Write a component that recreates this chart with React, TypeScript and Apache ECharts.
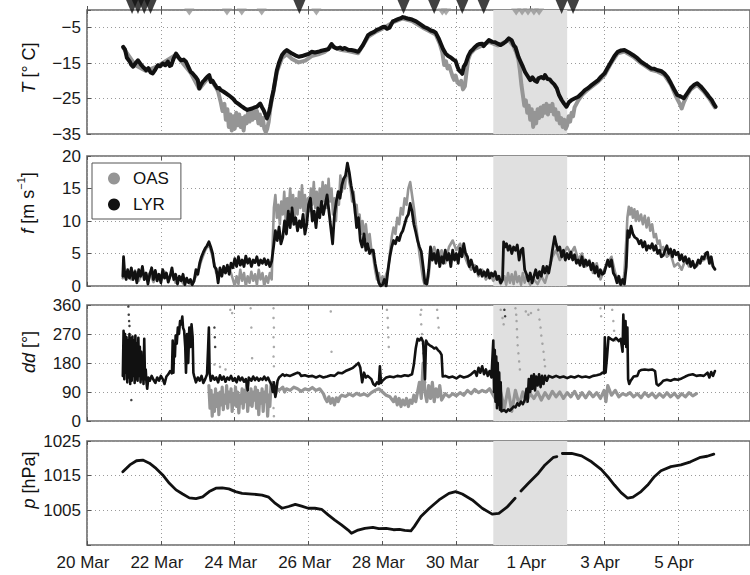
import React, { useEffect, useRef } from 'react';
import * as echarts from 'echarts';

// x values are days after 20 Mar 00:00
const DATE_LABELS = ['20 Mar', '22 Mar', '24 Mar', '26 Mar', '28 Mar', '30 Mar', '1 Apr', '3 Apr', '5 Apr'];
const SHADE = [11, 13]; // 31 Mar - 2 Apr

const T_LYR = [[0.98,-10.4],[1.03,-11.2],[1.08,-13.5],[1.16,-14.6],[1.2,-15.5],[1.25,-16.0],[1.3,-15.2],[1.38,-14.2],[1.45,-15.3],[1.51,-16.0],[1.56,-16.5],[1.6,-17.0],[1.66,-16.4],[1.72,-17.6],[1.78,-17.9],[1.85,-16.8],[1.92,-15.6],[1.98,-15.9],[2.05,-15.1],[2.12,-15.6],[2.19,-14.6],[2.24,-15.8],[2.28,-15.6],[2.35,-13.6],[2.41,-12.3],[2.48,-13.4],[2.55,-14.2],[2.62,-14.0],[2.68,-14.6],[2.75,-16.2],[2.81,-17.5],[2.86,-17.9],[2.9,-18.4],[2.95,-19.0],[3.0,-19.8],[3.04,-22.1],[3.09,-21.0],[3.13,-20.3],[3.18,-19.8],[3.22,-19.3],[3.27,-18.7],[3.31,-18.4],[3.35,-20.3],[3.4,-20.0],[3.44,-20.7],[3.49,-21.5],[3.53,-22.1],[3.58,-22.0],[3.62,-22.6],[3.69,-23.0],[3.76,-23.5],[3.83,-24.0],[3.89,-24.5],[3.95,-25.0],[4.02,-25.9],[4.1,-26.5],[4.2,-27.3],[4.27,-27.8],[4.34,-28.2],[4.4,-28.0],[4.47,-27.8],[4.53,-27.5],[4.6,-27.3],[4.65,-26.8],[4.69,-26.4],[4.74,-27.5],[4.78,-28.2],[4.83,-29.5],[4.87,-30.6],[4.92,-29.2],[4.96,-27.3],[5.0,-25.0],[5.05,-22.6],[5.1,-19.5],[5.14,-17.0],[5.2,-14.8],[5.28,-12.7],[5.35,-11.8],[5.41,-11.3],[5.48,-11.8],[5.55,-12.3],[5.64,-12.8],[5.73,-13.2],[5.82,-13.0],[5.91,-12.7],[6.0,-12.4],[6.08,-11.8],[6.17,-12.0],[6.26,-11.8],[6.35,-11.5],[6.44,-11.3],[6.53,-11.1],[6.62,-9.6],[6.69,-10.5],[6.76,-10.9],[6.85,-10.6],[6.92,-11.0],[6.98,-10.7],[7.07,-11.2],[7.16,-11.3],[7.25,-11.5],[7.34,-11.8],[7.4,-11.0],[7.47,-9.9],[7.54,-8.5],[7.61,-7.1],[7.7,-6.5],[7.77,-6.2],[7.83,-5.7],[7.92,-5.3],[8.01,-4.8],[8.06,-4.7],[8.12,-5.3],[8.19,-5.0],[8.28,-3.2],[8.33,-3.0],[8.42,-2.6],[8.5,-2.3],[8.55,-2.0],[8.62,-2.2],[8.68,-2.4],[8.8,-2.7],[8.91,-3.2],[9.02,-4.0],[9.13,-4.8],[9.22,-5.2],[9.31,-5.8],[9.38,-6.0],[9.44,-6.4],[9.52,-8.0],[9.58,-9.5],[9.64,-11.0],[9.71,-12.3],[9.78,-13.0],[9.85,-13.4],[9.92,-14.0],[9.98,-14.4],[10.03,-16.0],[10.07,-17.0],[10.12,-17.5],[10.16,-18.0],[10.2,-16.0],[10.25,-15.2],[10.32,-13.0],[10.38,-11.8],[10.43,-11.3],[10.5,-10.5],[10.56,-9.9],[10.62,-9.6],[10.7,-9.5],[10.74,-10.2],[10.8,-9.4],[10.88,-8.5],[10.97,-9.0],[11.05,-9.1],[11.12,-9.5],[11.2,-9.9],[11.28,-9.4],[11.35,-8.8],[11.42,-8.0],[11.5,-8.6],[11.55,-9.9],[11.6,-10.5],[11.68,-13.2],[11.73,-14.4],[11.8,-16.0],[11.86,-17.5],[11.92,-18.5],[12.0,-19.8],[12.06,-19.0],[12.12,-19.9],[12.18,-20.3],[12.22,-19.3],[12.3,-18.9],[12.36,-19.3],[12.4,-18.4],[12.47,-19.5],[12.53,-19.6],[12.58,-20.3],[12.65,-21.0],[12.72,-22.1],[12.78,-24.0],[12.85,-25.4],[12.92,-26.5],[12.98,-27.3],[13.05,-26.0],[13.12,-25.4],[13.2,-25.0],[13.3,-24.5],[13.4,-23.5],[13.48,-22.6],[13.57,-22.0],[13.66,-21.2],[13.75,-20.5],[13.84,-19.8],[13.92,-18.8],[14.01,-17.9],[14.1,-16.2],[14.19,-14.6],[14.28,-13.0],[14.37,-11.8],[14.46,-11.4],[14.55,-11.3],[14.66,-11.9],[14.78,-12.7],[14.9,-13.6],[15.0,-14.6],[15.13,-15.5],[15.27,-16.5],[15.36,-16.6],[15.45,-17.0],[15.54,-17.2],[15.63,-17.9],[15.72,-19.0],[15.81,-20.7],[15.9,-22.5],[15.98,-24.0],[16.07,-24.4],[16.16,-24.9],[16.25,-23.5],[16.34,-22.1],[16.43,-21.2],[16.52,-20.7],[16.61,-21.5],[16.7,-22.6],[16.77,-23.5],[16.84,-24.5],[16.92,-25.5],[16.97,-26.5],[17.02,-27.3]];

const T_OAS = [[0.98,-10.6],[1.3,-15.5],[1.6,-17.2],[1.92,-15.8],[2.41,-12.6],[2.81,-17.8],[3.04,-22.3],[3.31,-18.8],[3.5,-22.0],[3.55,-23.0],[3.62,-26.0],[3.67,-28.5],[3.72,-26.5],[3.76,-31.0],[3.8,-28.0],[3.84,-33.0],[3.88,-29.5],[3.92,-34.0],[3.96,-30.0],[4.0,-33.5],[4.04,-29.0],[4.08,-32.5],[4.12,-29.5],[4.16,-33.0],[4.2,-30.5],[4.24,-34.0],[4.28,-30.0],[4.32,-32.0],[4.36,-29.0],[4.4,-31.5],[4.44,-28.5],[4.48,-31.0],[4.52,-28.0],[4.56,-30.5],[4.6,-28.5],[4.64,-32.0],[4.68,-29.5],[4.72,-32.5],[4.76,-30.5],[4.8,-33.5],[4.84,-34.5],[4.88,-33.5],[4.92,-31.5],[4.96,-28.0],[5.0,-25.5],[5.05,-23.0],[5.14,-17.5],[5.28,-13.5],[5.41,-12.5],[5.55,-13.8],[5.73,-14.8],[5.91,-14.3],[6.08,-13.0],[6.26,-12.5],[6.44,-11.8],[6.62,-10.2],[6.85,-11.2],[7.07,-11.6],[7.34,-12.2],[7.61,-7.6],[7.83,-6.1],[8.01,-5.2],[8.28,-3.5],[8.55,-2.4],[8.8,-3.1],[9.13,-5.2],[9.44,-6.9],[9.55,-9.5],[9.62,-12.0],[9.67,-15.5],[9.72,-14.5],[9.76,-16.5],[9.81,-15.8],[9.86,-17.5],[9.9,-18.8],[9.94,-19.7],[9.98,-18.5],[10.03,-20.5],[10.08,-21.0],[10.13,-20.0],[10.18,-22.4],[10.23,-21.5],[10.27,-18.0],[10.32,-14.0],[10.38,-12.3],[10.5,-11.0],[10.7,-10.0],[10.88,-9.0],[11.12,-10.0],[11.42,-8.5],[11.55,-10.2],[11.62,-12.0],[11.68,-14.0],[11.72,-17.0],[11.76,-21.0],[11.8,-24.0],[11.84,-27.0],[11.88,-25.5],[11.92,-29.0],[11.96,-27.0],[12.0,-31.0],[12.04,-28.0],[12.08,-33.0],[12.12,-29.0],[12.16,-32.0],[12.2,-28.0],[12.24,-30.5],[12.28,-27.5],[12.32,-30.0],[12.36,-27.0],[12.4,-29.0],[12.44,-26.5],[12.48,-29.5],[12.52,-27.0],[12.56,-28.5],[12.6,-26.5],[12.64,-29.5],[12.68,-28.0],[12.72,-31.0],[12.76,-29.0],[12.8,-32.0],[12.84,-30.5],[12.88,-33.0],[12.92,-31.0],[12.96,-33.5],[13.0,-32.5],[13.04,-30.0],[13.08,-31.5],[13.12,-29.0],[13.16,-30.0],[13.2,-27.5],[13.25,-26.5],[13.3,-25.5],[13.4,-24.0],[13.57,-22.4],[13.84,-20.2],[14.01,-18.4],[14.19,-15.0],[14.37,-12.2],[14.55,-11.7],[14.78,-13.1],[15.0,-15.0],[15.27,-16.9],[15.45,-17.4],[15.63,-18.3],[15.81,-21.1],[15.95,-24.5],[16.05,-26.5],[16.1,-27.8],[16.16,-26.0],[16.25,-24.0],[16.34,-22.5],[16.52,-21.1],[16.7,-23.0],[16.84,-24.9],[17.0,-27.5]];

const TRI_LYR = [1.22, 1.38, 1.55, 1.72, 5.75, 8.57, 9.4, 10.16, 10.74, 12.85, 13.16];
const TRI_OAS = [2.77, 3.79, 4.19, 4.73, 6.21, 9.62, 9.72, 11.62, 11.78, 11.94, 12.1, 12.24];

const F_LYR = [[0.97,1.5],[0.99,4.5],[1.02,2.0],[1.06,1.0],[1.1,2.5],[1.15,1.2],[1.2,2.8],[1.25,1.0],[1.3,2.2],[1.35,0.5],[1.4,2.5],[1.45,1.5],[1.5,3.0],[1.55,1.0],[1.6,2.0],[1.65,0.3],[1.7,1.8],[1.75,2.8],[1.8,1.0],[1.85,2.4],[1.9,0.8],[1.95,1.8],[2.0,0.5],[2.05,2.5],[2.1,1.2],[2.15,2.0],[2.2,0.6],[2.25,1.5],[2.3,2.8],[2.35,1.0],[2.4,1.8],[2.45,0.3],[2.5,1.5],[2.55,0.8],[2.6,1.8],[2.65,0.2],[2.7,1.2],[2.75,0.5],[2.8,1.0],[2.85,0.2],[2.9,0.8],[2.95,2.5],[3.0,1.8],[3.05,3.5],[3.1,4.5],[3.15,5.2],[3.2,5.8],[3.25,6.2],[3.3,6.8],[3.35,6.0],[3.4,5.0],[3.45,3.0],[3.5,2.6],[3.55,0.5],[3.6,2.8],[3.65,1.5],[3.7,3.0],[3.75,2.0],[3.8,3.2],[3.85,1.8],[3.9,3.5],[3.95,2.8],[4.0,4.2],[4.05,3.0],[4.1,4.5],[4.15,3.2],[4.2,4.0],[4.25,3.0],[4.3,4.6],[4.35,3.5],[4.4,4.2],[4.45,3.0],[4.5,4.0],[4.55,3.6],[4.6,4.5],[4.65,3.2],[4.7,4.0],[4.75,3.5],[4.8,4.2],[4.85,3.3],[4.9,4.0],[4.95,3.0],[5.0,3.8],[5.05,6.0],[5.1,8.5],[5.15,7.0],[5.2,9.1],[5.25,6.5],[5.3,7.5],[5.35,10.0],[5.4,8.0],[5.45,11.5],[5.5,9.0],[5.55,12.0],[5.6,9.5],[5.65,10.5],[5.7,8.5],[5.75,10.0],[5.8,9.0],[5.85,11.0],[5.9,8.0],[5.95,9.5],[6.0,12.5],[6.05,13.5],[6.1,10.0],[6.15,11.5],[6.2,9.0],[6.25,12.0],[6.3,10.5],[6.35,13.0],[6.4,11.0],[6.45,12.5],[6.5,14.0],[6.55,11.5],[6.6,9.0],[6.65,6.5],[6.7,11.0],[6.75,13.0],[6.8,14.5],[6.85,13.5],[6.9,15.5],[6.95,16.5],[7.0,17.0],[7.05,18.9],[7.1,17.5],[7.15,15.5],[7.2,14.0],[7.25,12.0],[7.3,9.0],[7.35,10.5],[7.4,7.0],[7.45,6.0],[7.5,8.0],[7.55,5.5],[7.6,6.5],[7.65,5.0],[7.7,5.5],[7.75,5.5],[7.8,3.5],[7.85,2.0],[7.9,0.5],[7.95,0.0],[8.0,0.2],[8.05,1.0],[8.1,0.0],[8.15,2.5],[8.2,4.5],[8.25,6.0],[8.3,7.0],[8.35,6.5],[8.4,7.5],[8.45,7.0],[8.5,8.0],[8.55,8.5],[8.6,9.5],[8.65,10.5],[8.7,11.0],[8.75,12.7],[8.8,11.5],[8.85,9.5],[8.9,8.3],[8.95,7.0],[9.0,6.0],[9.05,5.3],[9.1,3.0],[9.15,0.5],[9.2,0.3],[9.25,2.5],[9.3,6.0],[9.35,4.0],[9.4,5.0],[9.45,3.5],[9.5,5.5],[9.55,3.0],[9.6,4.5],[9.65,3.5],[9.7,5.5],[9.75,4.0],[9.8,5.0],[9.85,3.0],[9.9,5.5],[9.95,4.0],[10.0,5.0],[10.05,3.5],[10.1,5.8],[10.15,4.5],[10.2,6.5],[10.25,5.0],[10.3,4.5],[10.35,3.0],[10.4,4.0],[10.45,3.0],[10.5,2.2],[10.55,3.0],[10.6,1.8],[10.65,2.5],[10.7,1.5],[10.75,2.2],[10.8,1.5],[10.85,2.5],[10.9,1.2],[10.95,2.0],[11.0,1.5],[11.05,2.2],[11.1,1.0],[11.15,1.5],[11.2,0.5],[11.25,1.0],[11.28,6.8],[11.32,6.0],[11.36,6.5],[11.4,5.5],[11.45,6.2],[11.5,5.0],[11.55,6.0],[11.6,5.5],[11.65,6.3],[11.7,4.0],[11.75,5.5],[11.8,5.8],[11.85,2.5],[11.9,1.8],[11.95,0.8],[12.0,2.0],[12.05,0.5],[12.1,1.5],[12.15,2.5],[12.2,1.2],[12.25,2.2],[12.3,1.5],[12.35,3.0],[12.4,2.0],[12.45,3.0],[12.5,2.0],[12.55,3.5],[12.6,5.5],[12.66,7.6],[12.7,6.5],[12.75,5.5],[12.8,6.0],[12.85,4.5],[12.9,5.5],[12.95,4.0],[13.0,5.0],[13.05,4.2],[13.1,5.2],[13.15,4.0],[13.2,4.8],[13.25,3.5],[13.3,4.0],[13.35,3.2],[13.4,4.5],[13.45,3.0],[13.5,4.0],[13.55,3.2],[13.6,3.8],[13.65,2.5],[13.7,3.5],[13.75,2.0],[13.8,3.0],[13.85,1.5],[13.9,2.5],[13.95,1.8],[14.0,2.0],[14.05,3.0],[14.1,4.0],[14.15,3.0],[14.2,4.0],[14.25,2.0],[14.3,1.5],[14.35,0.5],[14.4,1.5],[14.45,0.2],[14.5,1.0],[14.55,0.3],[14.6,3.0],[14.64,8.5],[14.68,7.5],[14.73,9.2],[14.78,8.0],[14.83,7.5],[14.9,7.2],[14.95,6.5],[15.0,7.0],[15.05,6.0],[15.1,6.8],[15.15,5.5],[15.2,6.2],[15.25,5.8],[15.3,6.5],[15.35,5.5],[15.4,6.2],[15.45,5.0],[15.5,5.5],[15.55,4.5],[15.6,4.7],[15.65,5.5],[15.7,6.2],[15.75,5.0],[15.8,5.7],[15.85,4.5],[15.9,5.5],[15.95,4.8],[16.0,5.2],[16.05,4.0],[16.1,4.8],[16.15,3.8],[16.2,4.5],[16.25,3.5],[16.3,4.2],[16.35,3.0],[16.4,3.8],[16.45,2.8],[16.5,3.2],[16.55,4.0],[16.6,3.5],[16.65,4.5],[16.7,4.2],[16.75,5.0],[16.8,5.2],[16.85,3.5],[16.9,4.5],[16.95,3.0],[17.0,2.6]];

const F_OAS = [[0.97,1.2],[1.1,2.0],[1.2,1.0],[1.3,2.4],[1.4,0.8],[1.5,2.0],[1.6,1.2],[1.7,2.0],[1.8,0.6],[1.9,1.8],[2.0,0.8],[2.1,2.2],[2.2,1.0],[2.3,2.0],[2.4,0.5],[2.5,1.4],[2.6,0.4],[2.7,1.0],[2.8,0.3],[2.9,1.0],[3.0,2.0],[3.1,4.0],[3.2,5.5],[3.3,6.5],[3.4,4.5],[3.5,2.0],[3.6,1.8],[3.7,2.5],[3.8,2.8],[3.9,2.0],[3.95,1.0],[4.0,0.0],[4.05,1.5],[4.1,0.3],[4.15,2.5],[4.2,0.8],[4.25,2.0],[4.3,0.0],[4.35,1.5],[4.4,0.5],[4.45,2.2],[4.5,0.8],[4.55,1.8],[4.6,0.2],[4.65,2.5],[4.7,1.0],[4.75,2.0],[4.8,0.0],[4.85,1.5],[4.9,0.5],[4.95,2.0],[5.0,1.0],[5.03,7.0],[5.06,12.0],[5.1,14.0],[5.14,10.5],[5.18,12.5],[5.22,9.5],[5.26,13.0],[5.3,11.0],[5.34,14.5],[5.38,10.0],[5.42,13.5],[5.46,11.5],[5.5,15.0],[5.54,12.0],[5.58,14.0],[5.62,10.5],[5.66,13.5],[5.7,11.0],[5.74,14.5],[5.78,12.0],[5.82,15.5],[5.86,11.5],[5.9,14.0],[5.94,10.0],[5.98,13.5],[6.02,11.5],[6.06,15.0],[6.1,12.5],[6.14,16.0],[6.18,12.0],[6.22,14.5],[6.26,11.0],[6.3,15.0],[6.34,12.5],[6.38,16.0],[6.42,13.0],[6.46,15.5],[6.5,12.0],[6.54,16.5],[6.58,13.0],[6.62,15.0],[6.66,11.0],[6.7,13.5],[6.74,10.0],[6.78,14.0],[6.82,12.5],[6.86,17.0],[6.9,14.5],[6.94,16.5],[6.98,15.0],[7.02,17.5],[7.06,18.0],[7.1,16.0],[7.14,15.0],[7.18,13.0],[7.22,14.5],[7.26,11.0],[7.3,12.5],[7.34,9.5],[7.38,11.0],[7.42,8.0],[7.46,10.0],[7.5,7.5],[7.55,9.5],[7.6,6.5],[7.65,8.0],[7.7,5.5],[7.75,4.5],[7.8,2.5],[7.85,1.0],[7.9,2.0],[7.95,0.5],[8.0,1.5],[8.05,0.8],[8.1,1.8],[8.15,2.5],[8.2,5.0],[8.25,7.5],[8.3,9.0],[8.35,8.0],[8.4,10.5],[8.45,9.5],[8.5,12.0],[8.55,11.0],[8.6,13.5],[8.65,12.5],[8.7,15.0],[8.75,16.0],[8.8,14.0],[8.85,12.0],[8.9,9.5],[8.95,7.5],[9.0,5.0],[9.05,3.0],[9.1,1.0],[9.15,0.0],[9.2,0.2],[9.25,1.5],[9.3,4.5],[9.4,6.0],[9.5,4.0],[9.6,5.5],[9.7,3.5],[9.8,6.0],[9.9,7.0],[10.0,5.5],[10.1,6.5],[10.2,5.0],[10.3,3.5],[10.4,2.5],[10.5,3.2],[10.6,1.5],[10.7,2.5],[10.8,1.0],[10.9,2.0],[11.0,0.8],[11.1,1.5],[11.2,0.3],[11.3,1.5],[11.35,0.2],[11.4,2.0],[11.45,0.5],[11.5,1.8],[11.55,0.3],[11.6,2.2],[11.65,0.6],[11.7,1.5],[11.75,0.2],[11.8,2.0],[11.85,0.5],[11.9,1.5],[12.0,0.2],[12.1,1.0],[12.2,0.3],[12.3,1.5],[12.4,0.5],[12.5,2.5],[12.6,4.5],[12.7,5.5],[12.8,4.0],[12.9,5.0],[13.0,6.0],[13.1,5.0],[13.2,6.0],[13.3,4.0],[13.4,5.0],[13.5,3.0],[13.6,4.0],[13.7,2.0],[13.8,3.5],[13.9,1.0],[14.0,2.5],[14.1,3.5],[14.2,4.5],[14.3,2.0],[14.4,0.5],[14.5,0.0],[14.55,2.0],[14.6,7.0],[14.63,10.5],[14.67,12.2],[14.7,11.0],[14.74,12.0],[14.78,10.5],[14.82,11.8],[14.86,10.0],[14.9,11.5],[14.95,10.0],[15.0,11.0],[15.05,9.5],[15.1,10.8],[15.15,9.0],[15.2,10.5],[15.25,8.5],[15.3,9.5],[15.35,7.5],[15.4,8.0],[15.45,6.5],[15.5,7.0],[15.55,5.5],[15.6,6.0],[15.7,4.5],[15.8,5.0],[15.9,3.0],[16.0,3.5],[16.1,2.5],[16.2,4.0],[16.3,3.0],[16.4,3.5],[16.5,3.0],[16.6,3.8],[16.7,4.0],[16.8,4.5],[16.9,3.5],[17.0,2.5]];

const DD_LYR = [[0.97,140],[0.99,280],[1.01,130],[1.03,270],[1.05,150],[1.07,260],[1.09,120],[1.11,250],[1.13,135],[1.15,270],[1.17,115],[1.19,255],[1.21,125],[1.23,262],[1.25,140],[1.27,250],[1.29,118],[1.31,265],[1.33,130],[1.35,240],[1.37,125],[1.39,258],[1.41,140],[1.43,230],[1.45,120],[1.47,215],[1.49,130],[1.51,200],[1.53,115],[1.55,255],[1.57,130],[1.59,160],[1.61,120],[1.63,100],[1.66,135],[1.7,125],[1.75,140],[1.8,128],[1.85,118],[1.9,135],[1.95,125],[2.0,140],[2.05,130],[2.1,115],[2.15,138],[2.2,145],[2.25,155],[2.3,148],[2.32,250],[2.34,150],[2.36,230],[2.38,200],[2.4,265],[2.43,240],[2.46,290],[2.49,270],[2.52,310],[2.55,300],[2.58,324],[2.6,290],[2.63,280],[2.66,230],[2.68,150],[2.71,270],[2.74,180],[2.77,290],[2.8,230],[2.83,300],[2.86,260],[2.88,150],[2.9,140],[2.95,120],[3.0,135],[3.05,125],[3.1,140],[3.15,118],[3.2,130],[3.25,145],[3.28,230],[3.3,290],[3.32,150],[3.35,125],[3.4,140],[3.45,128],[3.5,135],[3.55,120],[3.6,142],[3.65,128],[3.7,138],[3.75,122],[3.8,135],[3.85,128],[3.9,140],[3.95,125],[4.0,133],[4.05,120],[4.1,138],[4.15,126],[4.2,135],[4.25,122],[4.3,130],[4.35,95],[4.38,135],[4.45,125],[4.5,138],[4.55,127],[4.6,135],[4.65,125],[4.7,132],[4.75,128],[4.8,138],[4.85,127],[4.9,135],[4.95,122],[5.0,110],[5.03,90],[5.06,120],[5.1,75],[5.13,100],[5.16,125],[5.2,135],[5.25,140],[5.3,145],[5.35,140],[5.4,143],[5.5,140],[5.6,145],[5.7,150],[5.75,148],[5.8,140],[5.9,142],[6.0,138],[6.1,140],[6.2,135],[6.3,140],[6.4,135],[6.5,138],[6.6,142],[6.7,140],[6.8,150],[6.9,148],[7.0,155],[7.1,160],[7.2,165],[7.3,175],[7.35,180],[7.4,165],[7.45,120],[7.5,150],[7.55,135],[7.6,140],[7.7,130],[7.75,115],[7.8,110],[7.85,120],[7.9,115],[7.93,170],[7.96,118],[8.0,125],[8.05,130],[8.1,135],[8.2,138],[8.3,136],[8.4,140],[8.5,138],[8.6,142],[8.7,140],[8.8,145],[8.85,175],[8.9,225],[8.95,255],[9.0,250],[9.05,258],[9.1,245],[9.15,130],[9.18,250],[9.22,240],[9.28,235],[9.35,230],[9.4,225],[9.45,228],[9.5,220],[9.55,215],[9.6,205],[9.63,138],[9.7,140],[9.8,135],[9.9,138],[10.0,132],[10.1,140],[10.2,135],[10.3,138],[10.4,145],[10.5,155],[10.55,140],[10.6,165],[10.65,150],[10.7,170],[10.75,145],[10.8,160],[10.85,140],[10.9,155],[10.95,135],[11.0,250],[11.02,90],[11.04,220],[11.06,60],[11.08,200],[11.1,40],[11.12,180],[11.14,50],[11.16,150],[11.18,35],[11.2,120],[11.22,30],[11.3,34],[11.35,28],[11.4,36],[11.45,32],[11.5,38],[11.55,45],[11.6,42],[11.65,55],[11.7,48],[11.75,60],[11.8,52],[11.85,65],[11.9,100],[11.93,60],[11.96,130],[12.0,90],[12.03,140],[12.06,100],[12.1,145],[12.13,95],[12.16,138],[12.2,110],[12.24,145],[12.28,105],[12.32,140],[12.36,115],[12.4,140],[12.45,125],[12.5,140],[12.6,135],[12.7,140],[12.8,135],[12.9,138],[13.0,133],[13.1,138],[13.2,135],[13.3,140],[13.4,136],[13.5,138],[13.6,135],[13.7,140],[13.8,142],[13.9,145],[13.95,150],[14.0,148],[14.02,260],[14.04,150],[14.08,200],[14.12,260],[14.18,255],[14.25,250],[14.32,258],[14.4,248],[14.45,255],[14.5,215],[14.52,330],[14.55,240],[14.58,310],[14.6,230],[14.63,290],[14.65,130],[14.68,115],[14.72,125],[14.8,138],[14.9,140],[14.95,155],[15.0,158],[15.1,160],[15.2,158],[15.3,160],[15.38,155],[15.42,115],[15.47,110],[15.55,118],[15.6,125],[15.7,128],[15.8,125],[15.9,130],[16.0,128],[16.1,132],[16.2,138],[16.3,143],[16.4,145],[16.5,140],[16.6,142],[16.7,140],[16.8,150],[16.85,135],[16.9,152],[16.95,140],[17.0,155]];

const DD_OAS = [[3.3,110],[3.33,40],[3.36,95],[3.39,15],[3.42,80],[3.45,30],[3.48,100],[3.51,45],[3.54,85],[3.57,20],[3.6,90],[3.63,50],[3.66,105],[3.69,35],[3.72,80],[3.75,55],[3.78,110],[3.81,40],[3.84,90],[3.87,60],[3.9,100],[3.93,30],[3.96,85],[3.99,50],[4.02,105],[4.05,45],[4.08,90],[4.11,25],[4.14,80],[4.17,55],[4.2,100],[4.23,40],[4.26,95],[4.29,60],[4.32,110],[4.35,30],[4.38,85],[4.41,50],[4.44,100],[4.47,45],[4.5,90],[4.53,65],[4.56,105],[4.59,40],[4.62,95],[4.65,20],[4.68,85],[4.71,55],[4.74,100],[4.77,30],[4.8,90],[4.83,60],[4.86,110],[4.89,15],[4.92,80],[4.95,45],[4.98,110],[5.02,120],[5.06,105],[5.1,80],[5.15,100],[5.2,95],[5.3,105],[5.35,90],[5.4,100],[5.5,95],[5.6,105],[5.7,100],[5.8,92],[5.9,100],[6.0,96],[6.1,104],[6.2,95],[6.3,100],[6.4,85],[6.45,70],[6.5,60],[6.55,75],[6.6,55],[6.65,70],[6.7,50],[6.75,72],[6.8,60],[6.85,75],[6.9,80],[7.0,76],[7.1,84],[7.2,78],[7.3,86],[7.4,80],[7.5,84],[7.6,78],[7.7,88],[7.8,95],[7.9,100],[8.0,90],[8.1,80],[8.2,75],[8.3,60],[8.35,75],[8.4,50],[8.45,70],[8.5,45],[8.55,65],[8.6,50],[8.65,70],[8.7,45],[8.75,65],[8.8,55],[8.85,80],[8.9,60],[9.0,120],[9.05,70],[9.1,180],[9.15,90],[9.2,60],[9.25,110],[9.3,70],[9.35,120],[9.4,60],[9.45,100],[9.5,75],[9.55,110],[9.6,65],[9.7,85],[9.8,75],[9.9,85],[10.0,78],[10.1,88],[10.2,80],[10.3,95],[10.4,85],[10.5,98],[10.6,88],[10.7,95],[10.8,90],[10.9,100],[11.0,80],[11.1,60],[11.2,90],[11.3,40],[11.4,100],[11.5,30],[11.6,95],[11.7,50],[11.8,90],[11.9,60],[12.0,85],[12.1,70],[12.2,90],[12.3,65],[12.4,88],[12.5,70],[12.6,92],[12.7,75],[12.8,90],[12.9,70],[13.0,88],[13.1,75],[13.2,92],[13.3,70],[13.4,88],[13.5,72],[13.6,90],[13.7,75],[13.8,88],[13.9,70],[14.0,95],[14.05,60],[14.1,110],[14.2,80],[14.3,95],[14.4,75],[14.5,85],[14.6,80],[14.7,88],[14.8,75],[14.9,85],[15.0,72],[15.1,88],[15.2,76],[15.3,86],[15.4,72],[15.5,85],[15.6,74],[15.7,88],[15.8,75],[15.9,86],[16.0,72],[16.1,85],[16.2,75],[16.3,88],[16.4,78],[16.5,85]];

const DD_OAS_DOTS = [[3.45,175],[3.6,168],[3.75,160],[3.88,345],[3.93,335],[4.43,350],[4.45,290],[4.47,195],[5.05,350],[5.05,320],[5.06,290],[5.05,260],[5.06,230],[5.05,200],[5.06,170],[5.05,40],[5.06,15],[6.6,340],[6.62,215],[8.12,345],[8.14,320],[8.15,290],[8.16,260],[8.17,230],[9.03,330],[9.05,300],[9.07,270],[9.09,240],[9.1,210],[9.12,180],[9.13,150],[9.16,120],[9.05,345],[9.48,345],[9.5,320],[9.52,290],[11.2,345],[11.25,320],[11.28,300],[11.6,350],[11.62,330],[11.63,310],[11.64,285],[11.65,260],[11.66,235],[11.68,210],[11.7,185],[11.72,160],[11.88,340],[11.95,330],[12.02,335],[12.22,345],[12.25,315],[12.28,290],[12.3,265],[12.33,240],[12.36,215],[12.38,190],[12.4,170],[13.9,350],[13.92,325],[14.22,345],[14.25,310],[14.27,280],[14.3,250]];

const DD_LYR_DOTS = [[1.12,355],[1.13,330],[1.14,310],[1.15,295],[1.2,65],[3.45,290],[3.46,260],[3.47,230],[11.3,345],[11.32,325]];

const P_LYR = [[0.97,1016.1],[1.16,1018.1],[1.34,1019.3],[1.51,1019.5],[1.69,1018.6],[1.87,1017.1],[2.05,1015.2],[2.23,1012.8],[2.41,1010.9],[2.59,1009.7],[2.77,1008.6],[2.95,1008.4],[3.13,1008.9],[3.31,1010.4],[3.49,1011.4],[3.66,1011.5],[3.84,1011.2],[4.02,1010.4],[4.2,1009.9],[4.47,1009.7],[4.74,1009.4],[4.92,1008.8],[5.1,1007.0],[5.28,1005.6],[5.46,1006.1],[5.64,1006.7],[5.81,1006.2],[5.99,1005.6],[6.17,1005.6],[6.35,1005.3],[6.53,1003.7],[6.71,1002.2],[6.89,1000.8],[7.07,999.3],[7.16,998.4],[7.34,999.3],[7.52,999.8],[7.74,1000.1],[7.9,999.7],[8.1,999.8],[8.3,999.4],[8.46,999.5],[8.6,999.2],[8.77,999.1],[8.86,1000.3],[9.04,1003.2],[9.27,1005.6],[9.53,1008.0],[9.8,1009.9],[9.98,1010.4],[10.16,1009.7],[10.43,1008.0],[10.7,1005.6],[10.97,1003.9],[11.15,1004.1],[11.37,1005.9],[11.59,1008.5],[11.67,null],[11.75,1010.6],[11.95,1012.8],[12.22,1015.7],[12.4,1018.1],[12.63,1020.3],[12.72,1020.5],[12.8,null],[12.87,1021.4],[13.12,1021.4],[13.39,1020.7],[13.66,1019.0],[13.92,1016.8],[14.1,1014.7],[14.28,1012.3],[14.46,1010.1],[14.64,1008.5],[14.78,1008.8],[15.0,1010.4],[15.18,1012.3],[15.36,1014.7],[15.54,1016.4],[15.81,1017.6],[16.08,1018.1],[16.34,1019.0],[16.61,1020.3],[16.79,1020.6],[16.97,1021.2]];

const X_MAX = 17.95;
const FONT = 'Liberation Sans, Arial, Helvetica, sans-serif';
const GRAY = '#959595';
const BLACK = '#111111';
const GRIDS = [
  { top: 10, height: 124 },
  { top: 156, height: 130 },
  { top: 305, height: 116 },
  { top: 441, height: 104 },
];

function minus(v: number) {
  return String(v).replace('-', '\u2212');
}

export default function App() {
  const ref = useRef<HTMLDivElement>(null);
  useEffect(() => {
    if (!ref.current) return;
    const chart = echarts.init(ref.current, undefined, { renderer: 'svg' });

    const dotted = { lineStyle: { type: [1, 3], color: '#9a9a9a', width: 1 } };
    const xAxes: any[] = [];
    GRIDS.forEach((_, gi) => {
      xAxes.push({
        type: 'value', gridIndex: gi, min: 0, max: X_MAX, interval: 2,
        axisLine: { show: false },
        axisTick: { show: true, inside: true, length: 4, lineStyle: { color: '#555' } },
        axisLabel: {
          show: gi === 3, showMaxLabel: false, margin: 9, fontSize: 17, fontFamily: FONT, color: '#1a1a1a',
          padding: [0, 8, 0, 0],
          formatter: (v: number) => DATE_LABELS[Math.round(v / 2)] ?? '',
        },
        splitLine: { show: true, ...dotted },
      });
      xAxes.push({
        type: 'value', gridIndex: gi, position: 'top', min: 0, max: X_MAX, interval: 2,
        axisLine: { show: false },
        axisTick: { show: true, inside: true, length: 4, lineStyle: { color: '#555' } },
        axisLabel: { show: false },
        splitLine: { show: false },
      });
    });

    const yCommon = (gi: number, min: number, max: number, interval: number, hide: number[]) => ({
      type: 'value', gridIndex: gi, min, max, interval,
      axisLine: { show: false },
      axisTick: { show: true, inside: true, length: 4, lineStyle: { color: '#555' } },
      axisLabel: {
        margin: 6, fontSize: 17, fontFamily: FONT, color: '#1a1a1a',
        formatter: (v: number) => (hide.includes(v) ? '' : minus(v)),
      },
      splitLine: { show: true, ...dotted },
    });

    const yAxes = [
      yCommon(0, -35, 0, 10, [0]),
      yCommon(1, 0, 20, 5, []),
      yCommon(2, 0, 360, 90, []),
      yCommon(3, 995, 1025, 10, [995]),
    ];

    const shade = {
      silent: true,
      itemStyle: { color: '#e0e0e0' },
      data: [[{ xAxis: SHADE[0] }, { xAxis: SHADE[1] }]],
    };

    const line = (name: string, gi: number, data: any[], color: string, width: number, withShade = false) => ({
      name, type: 'line', xAxisIndex: gi * 2, yAxisIndex: gi, data,
      showSymbol: false, symbol: 'none', connectNulls: false,
      lineStyle: { color, width, join: 'round', cap: 'round' }, itemStyle: { color },
      ...(withShade ? { markArea: shade } : {}),
    });

    const dots = (name: string, gi: number, data: any[], color: string) => ({
      name, type: 'scatter', xAxisIndex: gi * 2, yAxisIndex: gi, data,
      symbol: 'circle', symbolSize: 2.5, itemStyle: { color },
    });

    const tri = (name: string, days: number[], color: string, size: number[], offset: number) => ({
      name, type: 'scatter', xAxisIndex: 0, yAxisIndex: 0, clip: false, z: 10,
      data: days.map((d) => [d, 0]),
      symbol: 'triangle', symbolRotate: 180, symbolSize: size, symbolOffset: [0, offset],
      itemStyle: { color },
    });

    const series = [
      line('OAS', 0, T_OAS, GRAY, 4, true),
      line('LYR', 0, T_LYR, BLACK, 4),
      tri('OAS', TRI_OAS, GRAY, [10, 7], 2),
      tri('LYR', TRI_LYR, BLACK, [12, 14], -3),
      line('OAS', 1, F_OAS, GRAY, 2.6, true),
      line('LYR', 1, F_LYR, BLACK, 2.8),
      line('OAS', 2, DD_OAS, GRAY, 3.2, true),
      dots('OAS', 2, DD_OAS_DOTS, GRAY),
      line('LYR', 2, DD_LYR, BLACK, 2.6),
      dots('LYR', 2, DD_LYR_DOTS, BLACK),
      line('LYR', 3, P_LYR, BLACK, 2.8, true),
    ];

    const titles = [
      { x: 27, y: 68, text: '{i|T}{n| [° C]}' },
      { x: 26, y: 203, text: '{i|f}{n| [m s}{s|\u22121}{n|]}' },
      { x: 27, y: 352, text: '{i|dd}{n| [°]}' },
      { x: 27, y: 480, text: '{i|p}{n| [hPa]}' },
    ];

    chart.setOption({
      animation: false,
      backgroundColor: '#ffffff',
      textStyle: { fontFamily: FONT },
      grid: GRIDS.map((g) => ({
        left: 87, right: -5, top: g.top, height: g.height,
        show: true, borderColor: '#6a6a6a', borderWidth: 1.6, backgroundColor: '#ffffff',
        containLabel: false,
      })),
      xAxis: xAxes,
      yAxis: yAxes,
      legend: {
        data: [{ name: 'OAS', icon: 'circle' }, { name: 'LYR', icon: 'circle' }],
        orient: 'vertical', left: 92, top: 163,
        padding: [7, 12, 6, 16],
        itemWidth: 12, itemHeight: 12, itemGap: 9,
        borderColor: '#555', borderWidth: 1, backgroundColor: '#ffffff',
        textStyle: { fontSize: 17, fontFamily: FONT, color: '#111', padding: [0, 0, 0, 8] },
        selectedMode: false,
      },
      graphic: titles.map((t) => ({
        type: 'text', x: t.x, y: t.y, rotation: Math.PI / 2,
        style: {
          text: t.text, align: 'center', verticalAlign: 'middle',
          textAlign: 'center', textVerticalAlign: 'middle',
          fill: '#111', fontSize: 18, fontFamily: FONT,
          rich: {
            i: { fontStyle: 'italic', fontSize: 18, fontFamily: FONT, fill: '#111', verticalAlign: 'bottom', lineHeight: 22 },
            n: { fontSize: 18, fontFamily: FONT, fill: '#111', verticalAlign: 'bottom', lineHeight: 22 },
            s: { fontSize: 11, fontFamily: FONT, fill: '#111', verticalAlign: 'top', lineHeight: 22 },
          },
        },
      })),
      series,
    });

    return () => chart.dispose();
  }, []);

  return <div ref={ref} style={{ position: 'fixed', left: 0, top: 0, width: 750, height: 575 }} />;
}
